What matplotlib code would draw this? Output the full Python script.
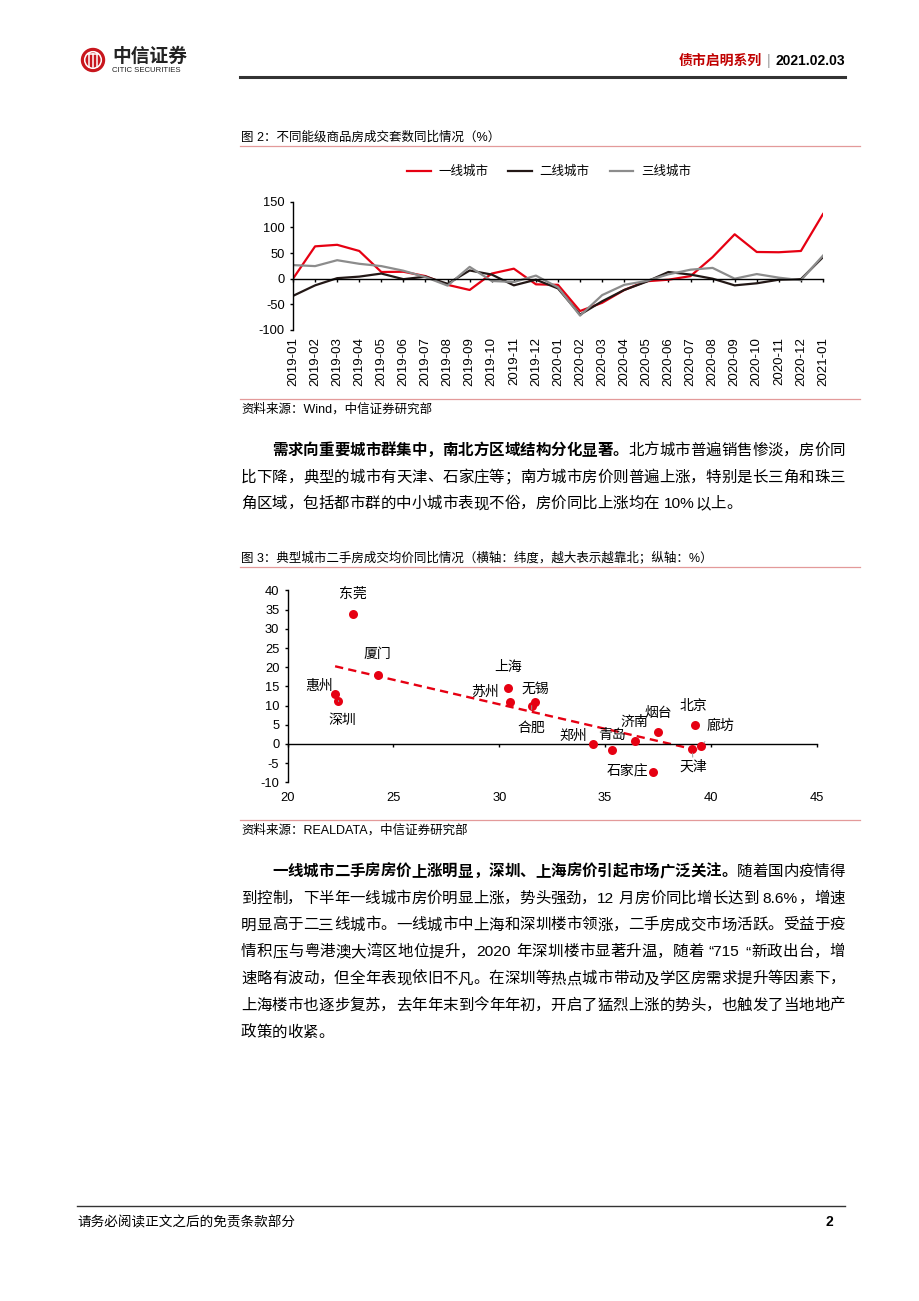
import re
import numpy as np
import matplotlib
matplotlib.use('Agg')
import matplotlib.pyplot as plt
from matplotlib.patches import Circle

W, H = 920, 1301
CN = ['Liberation Sans', 'Noto Sans CJK SC']
plt.rcParams['font.family'] = CN
plt.rcParams['axes.unicode_minus'] = False

RED = '#e60012'
DARK = '#231816'
GREY = '#8c8c8c'
PINK = '#e39a9a'

# ---- chart 1: yoy change of units sold by city tier (%)
months = ['2019-01', '2019-02', '2019-03', '2019-04', '2019-05', '2019-06', '2019-07',
          '2019-08', '2019-09', '2019-10', '2019-11', '2019-12', '2020-01', '2020-02',
          '2020-03', '2020-04', '2020-05', '2020-06', '2020-07', '2020-08', '2020-09',
          '2020-10', '2020-11', '2020-12', '2021-01']
tier1 = [0, 63, 66, 54, 13, 13.5, 5, -12, -22, 10, 19.5, -11, -12, -63, -47, -22,
         -5, -2, 5, 42, 86.5, 52, 51.5, 54, 126]
tier2 = [-33.5, -13, 1, 4, 10, -1, 4, -10, 16, 8, -13, -2, -19, -70, -44, -22,
         -6, 13, 8, 0, -13, -9, -2, -1, 42]
tier3 = [26.5, 24.5, 36, 29, 24.5, 15.5, 3, -13.5, 23, -4.5, -6.5, 6, -17, -72, -32, -12,
         -4.5, 8.5, 17.5, 21, 0, 9, 2, -3, 45]
tier_names = ['一线城市', '二线城市', '三线城市']

# ---- chart 2: second-hand price yoy vs latitude
cities = ['东莞', '厦门', '惠州', '深圳', '上海', '苏州', '无锡', '合肥',
          '郑州', '青岛', '济南', '烟台', '石家庄', '北京', '天津', '廊坊']
lat = [23.1, 24.26, 22.24, 22.4, 30.39, 30.49, 31.68, 31.53,
       34.43, 35.33, 36.39, 37.5, 37.27, 39.25, 39.12, 39.53]
yoy = [34.0, 17.9, 13.0, 11.3, 14.7, 10.9, 10.9, 10.0,
       0.1, -1.7, 0.8, 3.0, -7.2, 4.9, -1.3, -0.5]
# label placement (pixels from the point) and whether a leader line is drawn
label_off = [(0, 20), (0, 21), (-16, 8), (4, -19), (1, 21), (-25, 10), (0, 13), (0, -22),
             (-20, 8), (0, 15), (0, 19), (0, 19), (-26, 0), (-2, 19), (1, -18), (19, 20)]
leader = ['深圳', '合肥', '天津', '廊坊']

fig = plt.figure(figsize=(W / 100, H / 100), dpi=100)
page = fig.add_axes([0, 0, 1, 1], zorder=0)
page.set_xlim(0, W)
page.set_ylim(H, 0)
page.axis('off')


def fx(x):
    return x / W


def fy(y):
    return 1 - y / H


# ---- header
page.add_patch(Circle((93, 60), 11.5, color='#c8161d'))
page.add_patch(Circle((93, 60), 8.3, fill=False, ec='white', lw=1.1))
for dx in (-4, 0, 4):
    page.plot([93 + dx, 93 + dx], [54, 67], color='white', lw=1.1)
page.plot([88, 98], [54, 54], color='white', lw=1.1)
page.text(112, 57, '中信证券', fontsize=13.5, fontweight='bold', color='#222222',
          va='center', ha='left')
page.text(112, 70, 'CITIC SECURITIES', fontsize=5.6, color='#222222', va='center', ha='left')
page.text(845, 61, '2021.02.03', fontsize=10, fontweight='bold', ha='right', va='center')
page.text(769, 61, '|', fontsize=10, color='#999999', ha='center', va='center')
page.text(762, 61, '债市启明系列', fontsize=10, fontweight='bold', color='#c00000',
          ha='right', va='center')
page.plot([240, 845], [77, 77], color='#333333', lw=2.2)

# ---- chart captions and sources
page.text(241, 137, '图 2：不同能级商品房成交套数同比情况（%）', fontsize=9, va='center')
page.plot([240, 860], [146, 146], color=PINK, lw=0.9)
page.plot([240, 860], [399, 399], color=PINK, lw=0.9)
page.text(241, 409, '资料来源：Wind，中信证券研究部', fontsize=9, va='center')

page.text(241, 558, '图 3：典型城市二手房成交均价同比情况（横轴：纬度，越大表示越靠北；纵轴：%）',
          fontsize=9, va='center')
page.plot([240, 860], [567, 567], color=PINK, lw=0.9)
page.plot([240, 860], [820, 820], color=PINK, lw=0.9)
page.text(241, 830, '资料来源：REALDATA，中信证券研究部', fontsize=9, va='center')

# ---- footer
page.plot([77, 845], [1206, 1206], color='#333333', lw=1)
page.text(77, 1222, '请务必阅读正文之后的免责条款部分', fontsize=9.8, va='center')
page.text(833, 1222, '2', fontsize=10, fontweight='bold', va='center', ha='right')

# ---- body text (justified lines)
BODY = 11.15
EM = BODY * 100 / 72


def put_line(y, parts, x0, x1=None):
    r = fig.canvas.get_renderer()
    items = []
    for s, wt in parts:
        for t in re.findall(r'[!-~\u2018-\u201d]+|\s|.', s):
            if t.isspace():
                items.append((None, EM * 0.28))
                continue
            a = page.text(0, y, t, fontsize=BODY, fontweight=wt, va='baseline', ha='left')
            latin = all(ord(c) < 0x2E80 for c in t)
            wd = a.get_window_extent(r).width + 1 if latin else EM
            items.append((a, wd))
    gap = 0
    if x1 is not None:
        gap = (x1 - x0 - sum(w for _, w in items)) / max(len(items) - 1, 1)
    x = x0
    for a, wd in items:
        if a is not None:
            a.set_x(x)
        x += wd + gap


def paragraph(y0, step, lines):
    for i, parts in enumerate(lines):
        x0 = 241 + (2 * EM if i == 0 else 0)
        x1 = 845 if i < len(lines) - 1 else None
        put_line(y0 + i * step + 0.38 * EM, parts, x0, x1)


paragraph(449, 26.65, [
    [('需求向重要城市群集中，南北方区域结构分化显著。', 'bold'), ('北方城市普遍销售惨淡，房价同', 'normal')],
    [('比下降，典型的城市有天津、石家庄等；南方城市房价则普遍上涨，特别是长三角和珠三', 'normal')],
    [('角区域，包括都市群的中小城市表现不俗，房价同比上涨均在 10%以上。', 'normal')],
])
paragraph(870, 26.8, [
    [('一线城市二手房房价上涨明显，深圳、上海房价引起市场广泛关注。', 'bold'), ('随着国内疫情得', 'normal')],
    [('到控制，下半年一线城市房价明显上涨，势头强劲，12 月房价同比增长达到 8.6%，增速', 'normal')],
    [('明显高于二三线城市。一线城市中上海和深圳楼市领涨，二手房成交市场活跃。受益于疫', 'normal')],
    [('情积压与粤港澳大湾区地位提升，2020 年深圳楼市显著升温，随着 “715 “新政出台，增', 'normal')],
    [('速略有波动，但全年表现依旧不凡。在深圳等热点城市带动及学区房需求提升等因素下，', 'normal')],
    [('上海楼市也逐步复苏，去年年末到今年年初，开启了猛烈上涨的势头，也触发了当地地产', 'normal')],
    [('政策的收紧。', 'normal')],
])


def style_axes(ax):
    ax.set_facecolor('none')
    for s in ('top', 'right'):
        ax.spines[s].set_visible(False)
    ax.spines['left'].set_linewidth(1.0)
    ax.spines['bottom'].set_position(('data', 0))
    ax.spines['bottom'].set_linewidth(1.0)
    ax.tick_params(axis='y', direction='out', length=2.5, width=1, labelsize=9.3, pad=3.5)
    ax.tick_params(axis='x', direction='out', length=2.5, width=1, labelbottom=False)


# ---- chart 1
ax1 = fig.add_axes([fx(293), fy(330), fx(823) - fx(293), fy(201.7) - fy(330)], zorder=2)
x = np.arange(len(months))
l1, = ax1.plot(x, tier1, color=RED, lw=1.6)
l2, = ax1.plot(x, tier2, color=DARK, lw=1.6)
l3, = ax1.plot(x, tier3, color=GREY, lw=1.6)
ax1.set_xlim(0, len(months) - 1)
ax1.set_ylim(-100, 150)
ax1.set_yticks([-100, -50, 0, 50, 100, 150])
style_axes(ax1)
ax1.set_xticks(x)
sec1 = ax1.secondary_xaxis('bottom')
sec1.set_xticks(x, months, rotation=90, fontsize=9.5)
sec1.tick_params(length=0, pad=5)
sec1.spines['bottom'].set_visible(False)
ax1.legend([l1, l2, l3], tier_names, loc='center', ncol=3, frameon=False, fontsize=9,
           bbox_to_anchor=(fx(549), fy(172)), bbox_transform=fig.transFigure,
           handlelength=1.9, handletextpad=0.6, columnspacing=1.6)

# ---- chart 2
ax2 = fig.add_axes([fx(287.7), fy(782.3), fx(816.7) - fx(287.7), fy(590.5) - fy(782.3)], zorder=2)
ax2.set_xlim(20, 45)
ax2.set_ylim(-10, 40)
ax2.set_yticks(np.arange(-10, 41, 5))
style_axes(ax2)
ax2.set_xticks(np.arange(20, 46, 5))
sec2 = ax2.secondary_xaxis('bottom')
sec2.set_xticks(np.arange(20, 46, 5), [str(v) for v in range(20, 46, 5)], fontsize=9.3)
sec2.tick_params(length=0, pad=7)
sec2.spines['bottom'].set_visible(False)

k, b = np.polyfit(lat, yoy, 1)
xs = np.array([min(lat), max(lat)])
ax2.plot(xs, k * xs + b, color=RED, lw=1.7, ls=(0, (3.5, 2.2)), zorder=2)
ax2.scatter(lat, yoy, s=42, color=RED, zorder=4, linewidths=0)
for name, xv, yv, off in zip(cities, lat, yoy, label_off):
    arrow = None
    if name in leader:
        arrow = dict(arrowstyle='-', color='#999999', lw=0.7, shrinkA=6, shrinkB=3)
    ax2.annotate(name, (xv, yv), xytext=off, textcoords='offset pixels',
                 ha='center', va='center', fontsize=10, arrowprops=arrow, zorder=5)

fig.savefig('out.png', dpi=100)
